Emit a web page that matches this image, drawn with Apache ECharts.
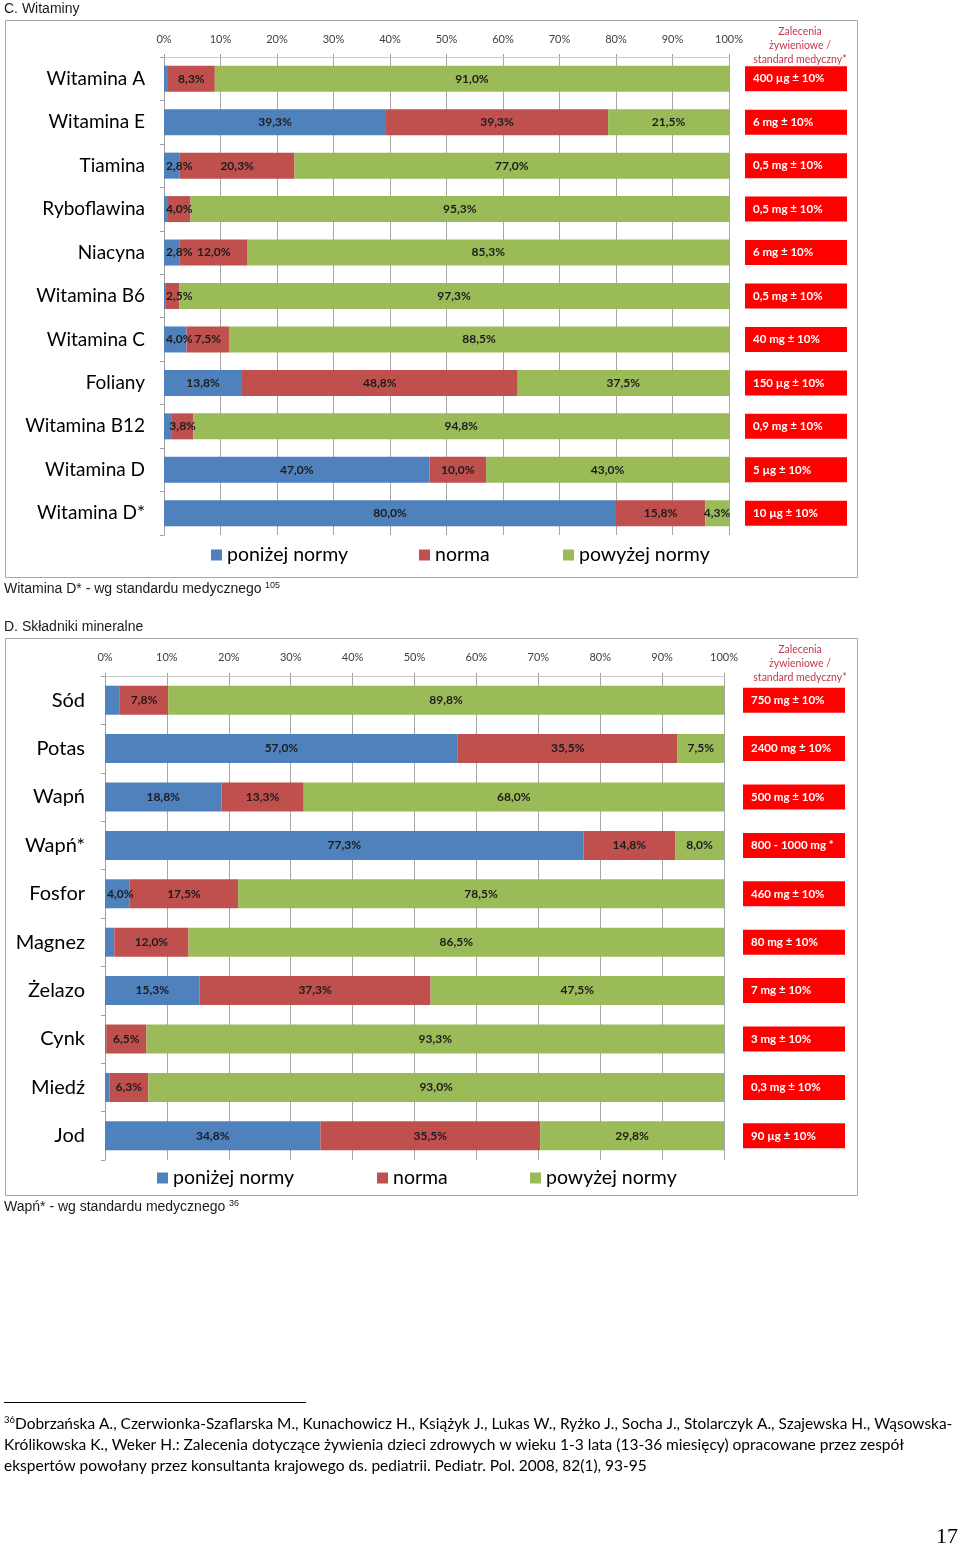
<!DOCTYPE html>
<html><head><meta charset="utf-8">
<script src="https://cdn.jsdelivr.net/npm/echarts@6/dist/echarts.min.js"></script>
<style>html,body{margin:0;padding:0;background:#fff}#c{width:960px;height:1547px}</style>
</head><body><div id="c"></div>
<script>
// ---- Data: C. Witaminy ----
const vitCategories = ['Witamina A','Witamina E','Tiamina','Ryboflawina','Niacyna','Witamina B6','Witamina C','Foliany','Witamina B12','Witamina D','Witamina D*'];
const vitBelow = [0.7, 39.3, 2.8, 0.7, 2.8, 0.2, 4.0, 13.8, 1.4, 47.0, 80.0];
const vitNorm  = [8.3, 39.3, 20.3, 4.0, 12.0, 2.5, 7.5, 48.8, 3.8, 10.0, 15.8];
const vitAbove = [91.0, 21.5, 77.0, 95.3, 85.3, 97.3, 88.5, 37.5, 94.8, 43.0, 4.3];
const vitRecommend = ['400 µg ± 10%','6 mg ± 10%','0,5 mg ± 10%','0,5 mg ± 10%','6 mg ± 10%','0,5 mg ± 10%','40 mg ± 10%','150 µg ± 10%','0,9 mg ± 10%','5 µg ± 10%','10 µg ± 10%'];
// ---- Data: D. Składniki mineralne ----
const minCategories = ['Sód','Potas','Wapń','Wapń*','Fosfor','Magnez','Żelazo','Cynk','Miedź','Jod'];
const minBelow = [2.4, 57.0, 18.8, 77.3, 4.0, 1.5, 15.3, 0.2, 0.7, 34.8];
const minNorm  = [7.8, 35.5, 13.3, 14.8, 17.5, 12.0, 37.3, 6.5, 6.3, 35.5];
const minAbove = [89.8, 7.5, 68.0, 8.0, 78.5, 86.5, 47.5, 93.3, 93.0, 29.8];
const minRecommend = ['750 mg ± 10%','2400 mg ± 10%','500 mg ± 10%','800 - 1000 mg *','460 mg ± 10%','80 mg ± 10%','7 mg ± 10%','3 mg ± 10%','0,3 mg ± 10%','90 µg ± 10%'];
const seriesNames = ['poniżej normy','norma','powyżej normy'];
const colors = ['#4f81bd','#c0504d','#9bbb59'];
const headerText = 'Zalecenia\nżywieniowe /\nstandard medyczny*';

const F = 'Lato, "Noto Sans", sans-serif';
const A = '"Liberation Sans", Arial, sans-serif';
const chart = echarts.init(document.getElementById('c'));

function pct(v){ return v.toFixed(1).replace('.', ',') + '%'; }

function xAxisPct(gi, margin){
  return {gridIndex: gi, type:'value', position:'top', min:0, max:100, interval:10,
    axisLabel:{formatter:'{value}%', fontSize:11, fontFamily:F, color:'#404040', margin:margin},
    axisLine:{show:true, lineStyle:{color:'#c8c8c8'}},
    axisTick:{show:true, length:3, lineStyle:{color:'#a0a0a0'}},
    splitLine:{show:true, lineStyle:{color:'#a6a6a6', width:1}}};
}
function yAxisCat(gi, cats, fs, margin){
  return {gridIndex: gi, type:'category', inverse:true, data:cats,
    axisLabel:{fontSize:fs, fontFamily:F, color:'#000', margin:margin},
    axisLine:{show:true, lineStyle:{color:'#a0a0a0'}},
    axisTick:{show:true, length:4, lineStyle:{color:'#a0a0a0'}}};
}
function stackSeries(xi, yi, arrs, stack, bw, gridLeft){
  return arrs.map((arr, k) => ({
    name: seriesNames[k], type:'bar', stack: stack, xAxisIndex: xi, yAxisIndex: yi,
    barWidth: bw, data: arr, itemStyle:{color: colors[k]},
    label:{show:true, position:'inside', fontSize:12, fontWeight:'bold', fontFamily:F, color:'#1c1c1c',
      formatter: p => p.value < 2.45 ? '' : pct(p.value)},
    labelLayout: p => (p.labelRect && p.labelRect.x < gridLeft + 1)
      ? {x: gridLeft + 2, y: p.labelRect.y + p.labelRect.height / 2, align:'left', verticalAlign:'middle'} : {}
  }));
}
function boxSeries(xi, yi, texts, bw){
  return {type:'bar', xAxisIndex: xi, yAxisIndex: yi, barWidth: bw, silent:true,
    data: texts.map(() => 1), itemStyle:{color:'#ff0000'},
    label:{show:true, position:'insideLeft', distance:8, fontSize:11.5, fontWeight:'bold', fontFamily:F, color:'#fff',
      formatter: p => texts[p.dataIndex]}};
}
function legendItem(name, left, cy){
  return {data:[name], left:left, top: cy - 11, padding:0, itemWidth:11, itemHeight:11, icon:'rect',
    selectedMode:false, textStyle:{fontSize:19.5, fontFamily:F, color:'#000'}};
}
function txt(x, y, text, font, extra){
  return Object.assign({type:'text', x:x, y:y, silent:true,
    style:Object.assign({text:text, font:font, fill:'#1a1a1a', textVerticalAlign:'middle'}, extra||{})});
}

const option = {
  animation:false,
  grid:[
    {left:164, top:57, width:565, height:478},
    {left:745, top:57, width:102, height:478},
    {left:105, top:676, width:619, height:484},
    {left:743, top:676, width:102, height:484}
  ],
  xAxis:[
    xAxisPct(0, 12),
    {gridIndex:1, type:'value', min:0, max:1, show:false},
    xAxisPct(2, 13),
    {gridIndex:3, type:'value', min:0, max:1, show:false}
  ],
  yAxis:[
    yAxisCat(0, vitCategories, 19, 19),
    {gridIndex:1, type:'category', inverse:true, data:vitCategories, show:false},
    yAxisCat(2, minCategories, 20, 20),
    {gridIndex:3, type:'category', inverse:true, data:minCategories, show:false}
  ],
  legend:[
    legendItem(seriesNames[0], 211, 556),
    legendItem(seriesNames[1], 419, 556),
    legendItem(seriesNames[2], 563, 556),
    legendItem(seriesNames[0], 157, 1179),
    legendItem(seriesNames[1], 377, 1179),
    legendItem(seriesNames[2], 530, 1179)
  ],
  series:[].concat(
    stackSeries(0, 0, [vitBelow, vitNorm, vitAbove], 'vit', 26, 164),
    [boxSeries(1, 1, vitRecommend, 25)],
    stackSeries(2, 2, [minBelow, minNorm, minAbove], 'min', 29, 105),
    [boxSeries(3, 3, minRecommend, 25)]
  ),
  graphic:[
    txt(4, 9, 'C. Witaminy', '14px ' + A),
    {type:'rect', silent:true, shape:{x:5.5, y:20.5, width:852, height:557}, style:{fill:'none', stroke:'#a6a6a6', lineWidth:1}},
    txt(800, 46, headerText, '10.5px ' + F, {fill:'#c0394b', textAlign:'center', lineHeight:14}),
    txt(4, 589, 'Witamina D* - wg standardu medycznego', '14px ' + A),
    txt(265, 586, '105', '9px ' + A),
    txt(4, 627, 'D. Składniki mineralne', '14px ' + A),
    {type:'rect', silent:true, shape:{x:5.5, y:638.5, width:852, height:557}, style:{fill:'none', stroke:'#a6a6a6', lineWidth:1}},
    txt(800, 664, headerText, '10.5px ' + F, {fill:'#c0394b', textAlign:'center', lineHeight:14}),
    txt(4, 1207, 'Wapń* - wg standardu medycznego', '14px ' + A),
    txt(229, 1204, '36', '9px ' + A),
    {type:'line', silent:true, shape:{x1:4, y1:1402.5, x2:306, y2:1402.5}, style:{stroke:'#000', lineWidth:1}},
    txt(4, 1420, '36', '9.5px ' + F, {fill:'#000'}),
    txt(15, 1424, 'Dobrzańska A., Czerwionka-Szaflarska M., Kunachowicz H., Książyk J., Lukas W., Ryżko J., Socha J., Stolarczyk A., Szajewska H., Wąsowska-', '15.45px ' + F, {fill:'#000'}),
    txt(4, 1445, 'Królikowska K., Weker H.: Zalecenia dotyczące żywienia dzieci zdrowych w wieku 1-3 lata (13-36 miesięcy) opracowane przez zespół', '15.5px ' + F, {fill:'#000'}),
    txt(4, 1466, 'ekspertów powołany przez konsultanta krajowego ds. pediatrii. Pediatr. Pol. 2008, 82(1), 93-95', '15.5px ' + F, {fill:'#000'}),
    txt(958, 1537, '17', '22px "Liberation Serif", serif', {fill:'#000', textAlign:'right'})
  ]
};
chart.setOption(option);
</script></body></html>
